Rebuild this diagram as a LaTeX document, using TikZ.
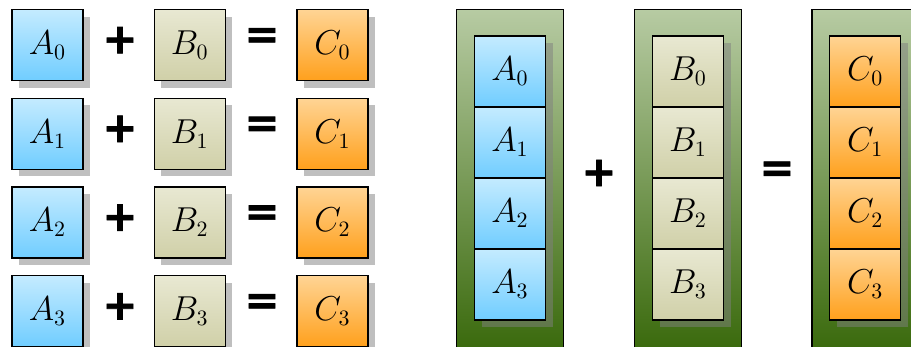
\documentclass[tikz,border=0pt]{standalone}
\usepackage{fontspec}
\usetikzlibrary{shadows}
\newfontfamily\opfont[FakeBold=1.5]{DejaVu Sans Bold}
\definecolor{aTop}{RGB}{196,235,255}
\definecolor{aBot}{RGB}{112,205,255}
\definecolor{bTop}{RGB}{232,232,210}
\definecolor{bBot}{RGB}{208,208,168}
\definecolor{cTop}{RGB}{255,212,148}
\definecolor{cBot}{RGB}{255,160,28}
\definecolor{gTop}{RGB}{183,203,163}
\definecolor{gBot}{RGB}{56,104,10}
\tikzset{
    cell/.style={draw,line width=0.6pt,minimum size=35.5pt,inner sep=0pt,
        outer sep=0pt,font=\fontsize{16}{19}\selectfont,
        drop shadow={shadow xshift=3.5pt,shadow yshift=-3.5pt}},
    cellA/.style={cell,top color=aTop,bottom color=aBot},
    cellB/.style={cell,top color=bTop,bottom color=bBot},
    cellC/.style={cell,top color=cTop,bottom color=cBot},
    op/.style={inner sep=0pt,font=\opfont\fontsize{21}{24}\selectfont},
    column/.style={draw,line width=0.6pt,top color=gTop,bottom color=gBot},
}
\begin{document}
\begin{tikzpicture}[x=0.5pt,y=-0.5pt]
    \useasboundingbox (0,0) rectangle (911,347);
    % element by element
    \foreach \y [count=\i from 0] in {45.2,133.9,222.6,311.3}{%
        \node[cellA] (A\i) at (47.5,\y) {$A_{\i}$};
        \node[op] (plus\i) at (120,\y-5) {+};
        \node[cellB] (B\i) at (189.8,\y) {$B_{\i}$};
        \node[op] (eq\i) at (262,\y-7) {=};
        \node[cellC] (C\i) at (332.5,\y) {$C_{\i}$};
    }
    % whole vectors
    \foreach \x/\v in {456.7/A,634.7/B,812/C}{%
        \draw[column] (\x,9.3) rectangle +(106.6,346) coordinate (col\v);
        \foreach \y [count=\i from 0] in {71.5,142.5,213.5,284.5}{%
            \node[cell\v] (v\v\i) at (\x+53.3,\y) {$\v_{\i}$};
        }
    }
    \node[op] (plusV) at (599,173) {+};
    \node[op] (eqV) at (777,171.7) {=};
\end{tikzpicture}
\end{document}
